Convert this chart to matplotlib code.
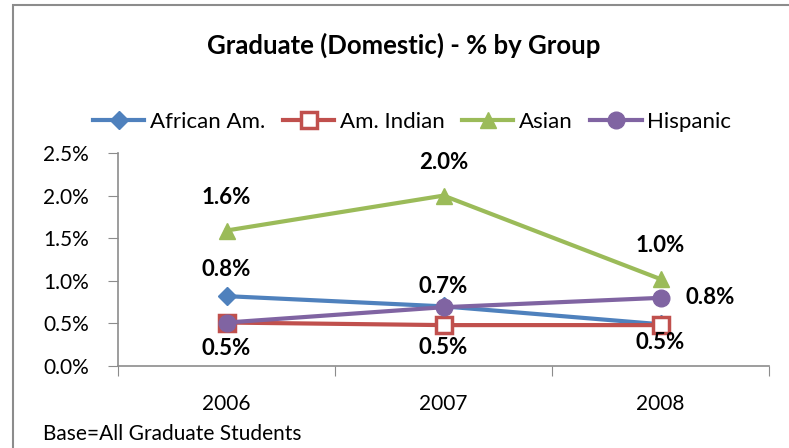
import matplotlib.pyplot as plt
from matplotlib.patches import Rectangle
from matplotlib.ticker import FuncFormatter

plt.rcParams['font.family'] = ['Lato', 'DejaVu Sans']

years = ['2006', '2007', '2008']
african = [0.82, 0.70, 0.49]
am_indian = [0.51, 0.48, 0.48]
asian = [1.59, 2.00, 1.02]
hispanic = [0.51, 0.69, 0.80]

BLUE = '#4F81BD'
RED = '#C0504D'
GREEN = '#9BBB59'
PURPLE = '#8064A2'

fig = plt.figure(figsize=(7.89, 4.48), dpi=100)
# chart area border (gray, cut at right/bottom like the screenshot)
fig.patches.append(Rectangle((13 / 789, -0.1), 1.0, 1 - 5 / 448 + 0.1, transform=fig.transFigure,
                             fill=False, edgecolor='#8c8c8c', linewidth=1.5))

ax = fig.add_axes((118 / 789, 1 - 366 / 448, 651 / 789, 213 / 448))
x = [0, 1, 2]
lw = 3.0
ax.plot(x, african, color=BLUE, lw=lw, marker='D', ms=9, label='African Am.')
ax.plot(x, am_indian, color=RED, lw=lw, marker='s', ms=11, mfc='white', mew=2.5, label='Am. Indian')
ax.plot(x, asian, color=GREEN, lw=lw, marker='^', ms=12, label='Asian')
ax.plot(x, hispanic, color=PURPLE, lw=lw, marker='o', ms=12, label='Hispanic')

ax.set_xlim(-0.5, 2.5)
ax.set_ylim(0, 2.5)
ax.set_yticks([0, 0.5, 1.0, 1.5, 2.0, 2.5])
ax.yaxis.set_major_formatter(FuncFormatter(lambda v, p: f'{v:.1f}%'))
ax.set_xticks([-0.5, 0.5, 1.5, 2.5])
ax.set_xticklabels([])
ax.tick_params(axis='x', length=7, color='#8c8c8c')
ax.tick_params(axis='y', length=7, color='#8c8c8c', labelsize=15, pad=14)
for s in ['top', 'right']:
    ax.spines[s].set_visible(False)
for s in ['left', 'bottom']:
    ax.spines[s].set_color('#8c8c8c')
    ax.spines[s].set_linewidth(1.2)

for i, y in enumerate(years):
    ax.text(i, -0.45, y, ha='center', va='center', fontsize=15)

bold = dict(fontsize=16, fontweight='bold', ha='center', va='center')
for i, v in enumerate(asian):
    ax.text(i, v + 0.39, f'{v:.1f}%', **bold)
ax.text(0, african[0] + 0.31, f'{african[0]:.1f}%', **bold)
ax.text(1, hispanic[1] + 0.24, f'{hispanic[1]:.1f}%', **bold)
ax.text(0, am_indian[0] - 0.30, f'{am_indian[0]:.1f}%', **bold)
ax.text(1, am_indian[1] - 0.26, f'{am_indian[1]:.1f}%', **bold)
ax.text(2, am_indian[2] - 0.2, f'{am_indian[2]:.1f}%', **bold)
ax.text(2.23, hispanic[2], f'{hispanic[2]:.1f}%', **bold)

ax.legend(loc='center', bbox_to_anchor=(0.452, 1.146), ncol=4, frameon=False, fontsize=16,
          handlelength=2.3, columnspacing=0.8, handletextpad=0.25, borderaxespad=0)

fig.text(404 / 789, 1 - 45 / 448, 'Graduate (Domestic) - % by Group', ha='center', va='center',
         fontsize=18.5, fontweight='bold')
fig.text(43 / 789, 1 - 434 / 448, 'Base=All Graduate Students', ha='left', va='center', fontsize=15,
         bbox=dict(facecolor='white', edgecolor='none', pad=6))

fig.savefig('out.png', dpi=100)
